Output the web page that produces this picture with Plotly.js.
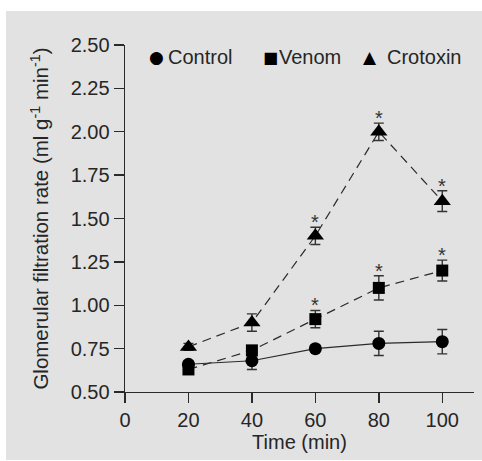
<!DOCTYPE html>
<html>
<head>
<meta charset="utf-8">
<script src="https://cdn.plot.ly/plotly-3.0.1.min.js"></script>
<style>
  html, body { margin: 0; padding: 0; background: #ffffff; }
  #bg { position: absolute; left: 6px; top: 11px; width: 476px; height: 449px; background: #e2e2e2; }
  #chart { position: absolute; left: 0; top: 0; width: 482px; height: 461px; }
</style>
</head>
<body>
<div id="bg"></div>
<div id="chart"></div>
<script>
// ---- data ----
const time = [20, 40, 60, 80, 100];

const controlGFR = [0.66, 0.68, 0.75, 0.78, 0.79];
const controlErr = [0.02, 0.05, 0.02, 0.07, 0.07];

const venomGFR = [0.63, 0.74, 0.92, 1.10, 1.20];
const venomErr = [0.02, 0.02, 0.05, 0.07, 0.06];

const crotoxinGFR = [0.76, 0.90, 1.40, 2.00, 1.60];
const crotoxinErr = [0.02, 0.05, 0.05, 0.05, 0.06];

const venomSig = [false, false, true, true, true];
const crotoxinSig = [false, false, true, true, true];

const xTicks = [0, 20, 40, 60, 80, 100];
const yTicks = [0.50, 0.75, 1.00, 1.25, 1.50, 1.75, 2.00, 2.25, 2.50];

const seriesNames = ["Control", "Venom", "Crotoxin"];
const legendSymbols = ["\u25CF", "\u25A0", "\u25B2"];

// ---- styling ----
const FONT = '"Liberation Sans", Arial, Helvetica, sans-serif';
const TXT = '#262626';
const LINE = '#2a2a2a';

function errBar(arr) {
  return { type: 'data', array: arr, visible: true, color: '#333333', thickness: 1.4, width: 5 };
}

const traces = [
  {
    x: time, y: controlGFR, name: seriesNames[0], type: 'scatter', mode: 'lines+markers',
    line: { color: LINE, width: 1.2 },
    marker: { symbol: 'circle', size: 13, color: '#000000' },
    error_y: errBar(controlErr), showlegend: false, cliponaxis: false
  },
  {
    x: time, y: venomGFR, name: seriesNames[1], type: 'scatter', mode: 'lines+markers',
    line: { color: LINE, width: 1.2, dash: '9px,6px' },
    marker: { symbol: 'square', size: 12, color: '#000000' },
    error_y: errBar(venomErr), showlegend: false, cliponaxis: false
  },
  {
    x: time, y: crotoxinGFR, name: seriesNames[2], type: 'scatter', mode: 'lines+markers',
    line: { color: LINE, width: 1.2, dash: '9px,6px' },
    marker: { symbol: 'triangle-up', size: 15, color: '#000000' },
    error_y: errBar(crotoxinErr), showlegend: false, cliponaxis: false
  }
];

// plot area geometry helpers (pixels -> paper)
const L = 125, T = 45, W = 349, H = 347;
const px = v => (v - L) / W;
const py = v => (T + H - v) / H;

const annotations = [];
// significance asterisks
function addStars(vals, errs, sig) {
  vals.forEach((v, i) => {
    if (!sig[i]) return;
    annotations.push({
      x: time[i], y: v + errs[i], xref: 'x', yref: 'y',
      text: '*', showarrow: false, yanchor: 'bottom', xanchor: 'center',
      yshift: -8, font: { family: FONT, size: 20, color: '#333333' }
    });
  });
}
addStars(venomGFR, venomErr, venomSig);
addStars(crotoxinGFR, crotoxinErr, crotoxinSig);

// legend (symbols + labels) as text
const symCenters = [156.7, 270, 370];
const txtStarts = [165.5, 276.5, 385];
const symSizes = [17, 16, 17];
for (let i = 0; i < 3; i++) {
  annotations.push({
    x: px(symCenters[i]), y: py(57), xref: 'paper', yref: 'paper',
    text: legendSymbols[i], showarrow: false, xanchor: 'center', yanchor: 'middle',
    font: { family: '"DejaVu Sans", sans-serif', size: symSizes[i], color: '#000000' }
  });
  annotations.push({
    x: px(txtStarts[i]), y: py(57), xref: 'paper', yref: 'paper',
    text: seriesNames[i], showarrow: false, xanchor: 'left', yanchor: 'middle',
    font: { family: FONT, size: 20, color: TXT }
  });
}

const layout = {
  width: 482, height: 461,
  margin: { l: L, r: 482 - L - W, t: T, b: 461 - T - H, pad: 0 },
  paper_bgcolor: 'rgba(0,0,0,0)',
  plot_bgcolor: 'rgba(0,0,0,0)',
  font: { family: FONT, size: 20, color: TXT },
  showlegend: false,
  xaxis: {
    range: [0, 110], tickvals: xTicks, ticktext: xTicks.map(String),
    ticks: 'outside', ticklen: 10, tickwidth: 1.4, tickcolor: LINE,
    showline: true, linewidth: 1.4, linecolor: LINE,
    showgrid: false, zeroline: false, fixedrange: true,
    tickfont: { family: FONT, size: 20, color: TXT },
    title: { text: 'Time (min)', font: { family: FONT, size: 20, color: TXT }, standoff: 4 }
  },
  yaxis: {
    range: [0.5, 2.5], tickvals: yTicks, ticktext: yTicks.map(v => v.toFixed(2)),
    ticks: 'outside', ticklen: 10, tickwidth: 1.4, tickcolor: LINE,
    showline: true, linewidth: 1.4, linecolor: LINE,
    showgrid: false, zeroline: false, fixedrange: true,
    tickfont: { family: FONT, size: 20, color: TXT },
    title: { text: 'Glomerular filtration rate (ml g<sup>-1</sup> min<sup>-1</sup>)', font: { family: FONT, size: 20.5, color: TXT }, standoff: 16 }
  },
  shapes: [
    { type: 'line', xref: 'paper', yref: 'paper', x0: -10 / W, x1: 0, y0: 0, y1: 0,
      line: { color: LINE, width: 1.4 } }
  ],
  annotations: annotations
};

Plotly.newPlot('chart', traces, layout, { displayModeBar: false, staticPlot: true });
</script>
</body>
</html>
